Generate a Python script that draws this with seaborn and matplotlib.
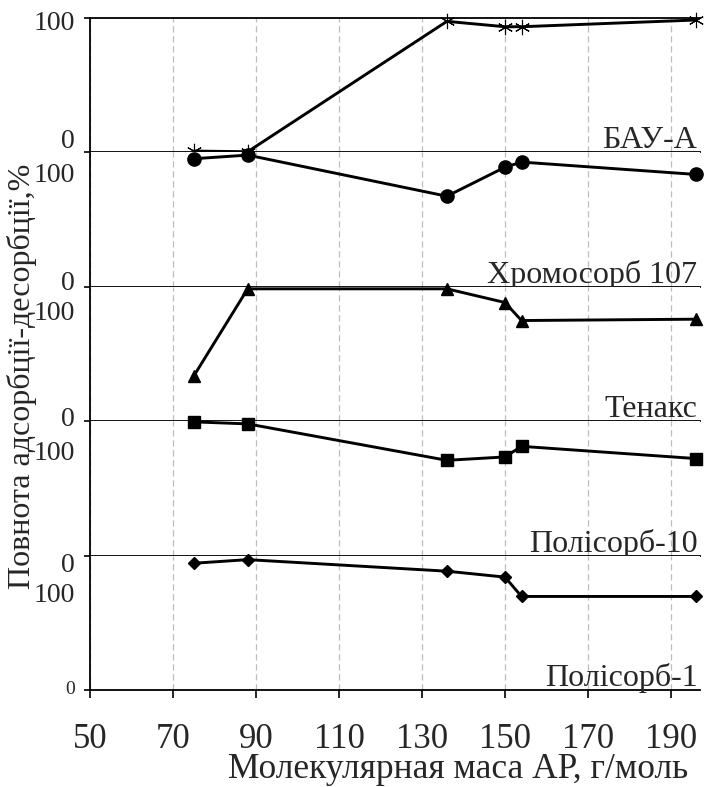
import numpy as np
import pandas as pd
import matplotlib
matplotlib.use("Agg")
import matplotlib.pyplot as plt
import matplotlib.transforms as mtransforms
import seaborn as sns

# ---- data ----
mol_mass = [75, 88, 136, 150, 154, 196]
sorbents = ["БАУ-А", "Хромосорб 107", "Тенакс", "Полісорб-10", "Полісорб-1"]
bau_a = [1, 0.5, 97.5, 93.5, 93.5, 98.5]
chromosorb = [95.3, 98.0, 67.4, 89.0, 92.8, 83.6]
tenax = [33.6, 98.5, 98.5, 88.3, 74.9, 75.9]
polysorb10 = [99.5, 98.0, 70.9, 73.4, 81.3, 72.2]
polysorb1 = [94.3, 97.0, 88.4, 84.0, 69.6, 69.6]
series = [bau_a, chromosorb, tenax, polysorb10, polysorb1]
x_ticks = [50, 70, 90, 110, 130, 150, 170, 190]
x_label = "Молекулярная маса АР, г/моль"
y_label = "Повнота адсорбції-десорбції,%"

sns.set_style("white")
plt.rcParams["font.family"] = ["Liberation Serif", "DejaVu Serif"]

W, H = 707, 787
fig = plt.figure(figsize=(W / 100, H / 100), dpi=100)
axes = fig.subplots(5, 1, sharex=True, gridspec_kw=dict(hspace=0))
fig.subplots_adjust(left=90 / W, right=700 / W, top=1 - 18 / H, bottom=1 - 690 / H)

markers = [(6, 2, 0), "o", "^", "s", "D"]
msizes = [11, 9.5, 8.5, 9, 6]

for i, (ax, vals, name) in enumerate(zip(axes, series, sorbents)):
    df = pd.DataFrame({"x": mol_mass, "y": vals})
    mk = markers[i]
    kw = dict(marker=mk, markersize=msizes[i], markeredgecolor="black",
              markerfacecolor="black", markeredgewidth=0.8 if i == 0 else 1.0)
    sns.lineplot(data=df, x="x", y="y", ax=ax, color="black", linewidth=2.1,
                 clip_on=False, zorder=5, **kw)
    ax.set_ylim(0, 100)
    ax.set_xlim(50, 197)
    ax.set_xticks(x_ticks)
    ax.grid(axis="x", color="#bdbdbd", linestyle=(0, (5, 3)), linewidth=0.9)
    ax.grid(axis="y", visible=False)
    for s in ["left", "bottom", "top"]:
        ax.spines[s].set_color("black")
        ax.spines[s].set_linewidth(1.3)
    ax.spines["right"].set_visible(False)
    ax.spines["top"].set_visible(i == 0)
    ax.set_yticks([0, 100] if i == 0 else [0])
    ax.tick_params(axis="y", direction="out", length=4, width=1.2, color="black",
                   labelleft=False, left=True)
    if i < 4:
        ax.tick_params(axis="x", length=0, labelbottom=False)
    else:
        ax.tick_params(axis="x", direction="out", length=6, width=1.2,
                       color="black", labelsize=25, pad=18, bottom=True)
    ax.set_xlabel("")
    ax.set_ylabel("")
    # panel name sitting just above the panel's bottom line
    trans = mtransforms.offset_copy(ax.transAxes, fig=fig, x=0, y=4, units="dots")
    ax.text(697 / 700 + 0.0, 0.0, name, transform=trans, ha="right",
            va="baseline", fontsize=23)

fig.text(458 / W, 1 - 770 / H, x_label, ha="center", va="center", fontsize=25.5)

# y tick labels placed as in the original figure
ylab_pos = [("100", 23, 20), ("0", 142, 20), ("100", 175, 20), ("0", 283, 20),
            ("100", 313, 20), ("0", 420, 20), ("100", 453, 20), ("0", 566, 20),
            ("100", 596, 20), ("0", 690, 14)]
for txt, yc, fs in ylab_pos:
    fig.text(75 / W, 1 - yc / H, txt, ha="right", va="center", fontsize=fs)

fig.text(22 / W, 1 - 376 / H, y_label, rotation=90, ha="center", va="center",
         fontsize=23)

fig.savefig("out.png", dpi=100)
